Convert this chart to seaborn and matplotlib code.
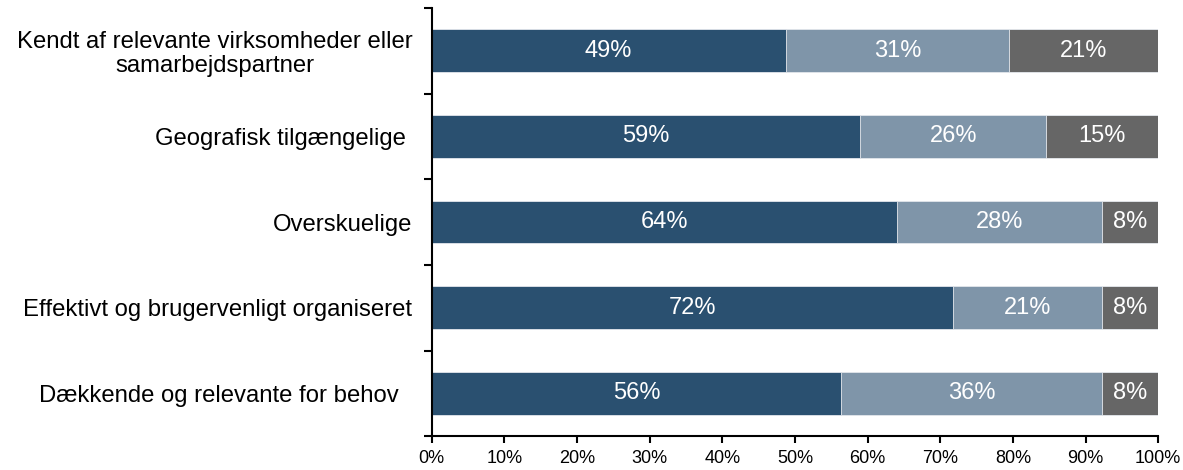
"""Stacked horizontal bar chart of assessment shares."""

import matplotlib
import matplotlib.pyplot as plt
import numpy as np
import pandas as pd
import seaborn as sns

matplotlib.use("Agg")

CATEGORIES = [
    "Kendt af relevante virksomheder eller\nsamarbejdspartner",
    "Geografisk tilgængelige ",
    "Overskuelige",
    "Effektivt og brugervenligt organiseret",
    "Dækkende og relevante for behov  ",
]
SHARE_HIGH = [48.7, 59.0, 64.1, 71.8, 56.4]
SHARE_MID = [30.8, 25.6, 28.2, 20.5, 35.9]
SHARE_LOW = [20.5, 15.4, 7.7, 7.7, 7.7]
X_TICKS = [0, 10, 20, 30, 40, 50, 60, 70, 80, 90, 100]

_COLORS = ["#2a5070", "#7f95a9", "#666666"]


def main() -> None:
    sns.set_theme(style="ticks")
    plt.rcParams["font.family"] = ["Liberation Sans", "DejaVu Sans"]

    df = pd.DataFrame(
        {"cat": CATEGORIES, "high": SHARE_HIGH, "mid": SHARE_MID, "low": SHARE_LOW}
    )
    df["c1"] = df["high"]
    df["c2"] = df["high"] + df["mid"]
    df["c3"] = df["c2"] + df["low"]

    fig = plt.figure(figsize=(11.83, 4.70), dpi=100)
    ax = fig.add_axes([0.365, 0.072, 0.614, 0.911])

    # overlay cumulative totals, widest first
    for col, color in zip(["c3", "c2", "c1"], _COLORS[::-1]):
        sns.barplot(
            data=df,
            x=col,
            y="cat",
            orient="h",
            color=color,
            width=0.5,
            edgecolor="#e6e9ee",
            linewidth=0.6,
            saturation=1,
            ax=ax,
        )

    # segment labels
    for i, row in df.iterrows():
        starts = [0, row["c1"], row["c2"]]
        for start, val in zip(starts, [row["high"], row["mid"], row["low"]]):
            ax.text(
                start + val / 2,
                i,
                f"{int(val + 0.5)}%",
                ha="center",
                va="center",
                color="white",
                fontsize=17,
            )

    ax.set_xlim(0, 100)
    ax.set_ylim(4.5, -0.5)
    ax.set_xticks(X_TICKS)
    ax.set_xticklabels([f"{t}%" for t in X_TICKS], fontsize=13, color="black")
    ax.set_yticks(range(len(CATEGORIES)))
    ax.set_yticklabels(
        CATEGORIES, fontsize=17.2, color="black", multialignment="center", linespacing=1.1
    )
    ax.set_yticks(np.arange(-0.5, len(CATEGORIES), 1), minor=True)
    ax.tick_params(axis="y", which="major", length=0, pad=14)
    ax.tick_params(axis="y", which="minor", length=6, width=1.5, color="black")
    ax.tick_params(axis="x", which="major", length=5, width=1.5, color="black", pad=5)
    ax.set_xlabel("")
    ax.set_ylabel("")

    sns.despine(ax=ax)
    for side in ["left", "bottom"]:
        ax.spines[side].set_linewidth(1.5)
        ax.spines[side].set_color("black")

    fig.savefig("out.png", dpi=100)
    plt.close(fig)


if __name__ == "__main__":
    main()
